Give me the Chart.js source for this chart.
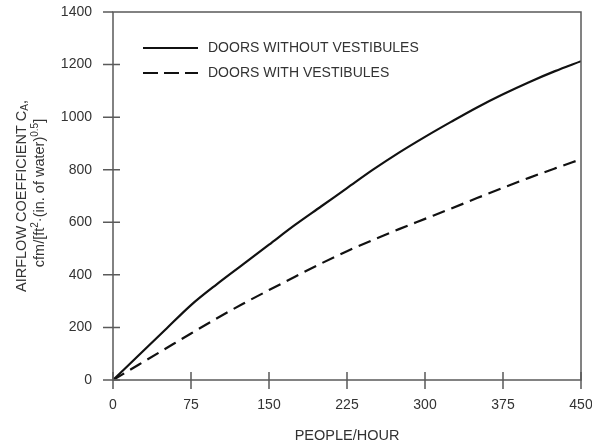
<!DOCTYPE html>
<html>
<head>
<meta charset="utf-8">
<script src="https://cdn.jsdelivr.net/npm/chart.js@4"></script>
<style>
  html,body{margin:0;padding:0;background:#fff;}
  #wrap{width:592px;height:446px;}
</style>
</head>
<body>
<div id="wrap"><canvas id="myChart" width="592" height="446"></canvas></div>
<script>
// values
const peoplePerHour = [0,25,50,75,100,125,150,175,200,225,250,275,300,325,350,375,400,425,450];
const withoutVestibules = [0,95,190,285,365,440,515,590,660,730,800,865,925,982,1037,1087,1133,1175,1213];
const withVestibules = [0,59,118,177,235,290,342,393,443,490,533,574,613,652,692,731,769,805,840];
const xTicks = [0,75,150,225,300,375,450];
const yTicks = [0,200,400,600,800,1000,1200,1400];
const seriesLabels = ['DOORS WITHOUT VESTIBULES','DOORS WITH VESTIBULES'];

const FONT = '"Liberation Sans", Arial, sans-serif';
const TXT = '#333';
const AX = '#5a5a5a';

const toPts = (ys)=>peoplePerHour.map((x,i)=>({x:x,y:ys[i]}));

// draws a row of text pieces (with sub/superscripts) centred on 0,0
function richRow(ctx, parts){
    let total=0;
    parts.forEach(p=>{ctx.font=p.size+'px '+FONT; p.w=ctx.measureText(p.t).width; total+=p.w;});
    let x=-total/2;
    parts.forEach(p=>{
        ctx.font=p.size+'px '+FONT;
        ctx.fillText(p.t,x,p.dy||0);
        x+=p.w;
    });
}

const framePlugin={
    id:'frame',
    afterDraw(chart){
        const ctx=chart.ctx;
        const a=chart.chartArea;
        const xs=chart.scales.x, ys=chart.scales.y;
        ctx.save();
        ctx.strokeStyle=AX;
        ctx.lineWidth=1.5;
        ctx.strokeRect(a.left,a.top,a.right-a.left,a.bottom-a.top);
        ctx.beginPath();
        xTicks.forEach(v=>{
            const px=xs.getPixelForValue(v);
            ctx.moveTo(px,a.bottom-8);
            ctx.lineTo(px,a.bottom+9);
        });
        yTicks.forEach(v=>{
            const py=ys.getPixelForValue(v);
            ctx.moveTo(a.left-10,py);
            ctx.lineTo(a.left+(v==1400?0:7),py);
        });
        ctx.stroke();

        // legend inside the plot
        const dsets=chart.data.datasets;
        const legY=[48,73];
        dsets.forEach((d,i)=>{
            ctx.beginPath();
            ctx.strokeStyle=d.borderColor;
            ctx.lineWidth=d.borderWidth;
            ctx.setLineDash(i==1?[15,6]:[]);
            ctx.moveTo(143,legY[i]);
            ctx.lineTo(198,legY[i]);
            ctx.stroke();
            ctx.setLineDash([]);
            ctx.fillStyle=TXT;
            ctx.font='14px '+FONT;
            ctx.textAlign='left';
            ctx.textBaseline='middle';
            ctx.fillText(d.label,208,legY[i]);
        });

        // y axis title, two lines, rotated
        const cy=(a.top+a.bottom)/2;
        ctx.fillStyle=TXT;
        ctx.textAlign='left';
        ctx.textBaseline='middle';
        ctx.save();
        ctx.translate(22,cy);
        ctx.rotate(-Math.PI/2);
        richRow(ctx,[{t:'AIRFLOW COEFFICIENT C',size:14.5},{t:'A',size:10,dy:3},{t:',',size:14.5}]);
        ctx.restore();
        ctx.save();
        ctx.translate(40,cy-3);
        ctx.rotate(-Math.PI/2);
        richRow(ctx,[{t:'cfm/[ft',size:14.5},{t:'2',size:10,dy:-5},{t:'\u00B7(in. of water)',size:14.5},{t:'0.5',size:10,dy:-5},{t:']',size:14.5}]);
        ctx.restore();
        ctx.restore();
    }
};

window.addEventListener('load',()=>{
    const ctx=document.getElementById('myChart');
    new Chart(ctx,{
        type:'line',
        data:{
            datasets:[{
                label:seriesLabels[0],
                data:toPts(withoutVestibules),
                borderColor:'#111',
                borderWidth:2.2,
                pointRadius:0,
                cubicInterpolationMode:'monotone'
            },{
                label:seriesLabels[1],
                data:toPts(withVestibules),
                borderColor:'#111',
                borderWidth:2.2,
                borderDash:[13,7],
                pointRadius:0,
                cubicInterpolationMode:'monotone'
            }]
        },
        options:{
            responsive:false,
            animation:false,
            events:[],
            layout:{padding:{top:12,right:11,left:0,bottom:0}},
            plugins:{legend:{display:false},tooltip:{enabled:false}},
            scales:{
                x:{
                    type:'linear',min:0,max:450,
                    afterBuildTicks:(s)=>{s.ticks=xTicks.map(v=>({value:v}));},
                    afterFit:(s)=>{s.height=66;s.paddingLeft=0;s.paddingRight=0;},
                    grid:{display:false},
                    border:{display:false},
                    ticks:{color:TXT,font:{family:FONT,size:14},padding:9,maxRotation:0,callback:(v)=>String(v)},
                    title:{display:true,text:'PEOPLE/HOUR',color:TXT,font:{family:FONT,size:14.5},padding:{top:0,bottom:1}}
                },
                y:{
                    min:0,max:1400,
                    afterBuildTicks:(s)=>{s.ticks=yTicks.map(v=>({value:v}));},
                    afterFit:(s)=>{s.width=113;s.paddingTop=0;s.paddingBottom=0;},
                    grid:{display:false},
                    border:{display:false},
                    ticks:{color:TXT,font:{family:FONT,size:14},padding:13,callback:(v)=>String(v)}
                }
            }
        },
        plugins:[framePlugin]
    });
});
</script>
</body>
</html>
